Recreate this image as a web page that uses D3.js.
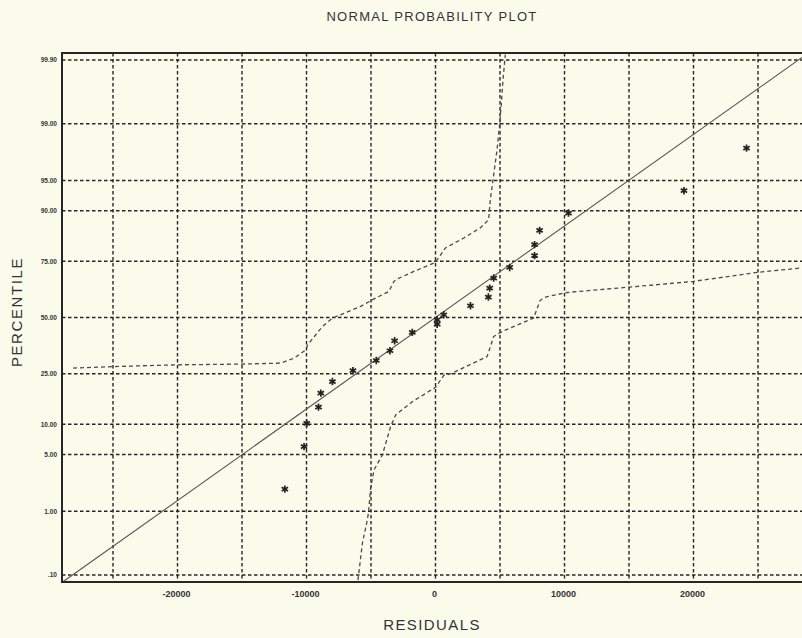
<!DOCTYPE html>
<html>
<head>
<meta charset="utf-8">
<script src="https://cdn.jsdelivr.net/npm/d3@7"></script>
<style>
  html, body { margin: 0; padding: 0; background: #fbfbec; }
  svg { display: block; }
</style>
</head>
<body>
<svg id="chart" width="802" height="638"></svg>
<script>
// ---------- data ----------
const percentTicks = [0.1, 1, 5, 10, 25, 50, 75, 90, 95, 99, 99.9];
const percentTickLabels = [".10", "1.00", "5.00", "10.00", "25.00", "50.00", "75.00", "90.00", "95.00", "99.00", "99.90"];
const residualGrid = [-25000, -20000, -15000, -10000, -5000, 0, 5000, 10000, 15000, 20000, 25000];
const residualTicks = [-20000, -10000, 0, 10000, 20000];
const residualTickLabels = ["-20000", "-10000", "0", "10000", "20000"];

const residuals = [-11680, -10190, -9980, -9070, -8890, -7990, -6400, -4590, -3530, -3170, -1800, 130, 130, 640, 2710, 4100, 4200, 4510, 5750, 7680, 7680, 8070, 10310, 19260, 24110];
const percentiles = [1.97, 6.06, 10.2, 14.1, 18.2, 22.1, 26.2, 30.3, 34.5, 39.0, 42.9, 46.8, 48.9, 51.3, 55.6, 59.7, 63.8, 68.2, 72.6, 77.1, 80.9, 85.2, 89.5, 93.6, 97.9];

const fitResiduals = [-29000, 29000];
const fitPercentiles = [0.072, 99.928];

const upperBandResiduals = [-28100, -24880, -19980, -15080, -11990, -10960, -10050, -9920, -8760, -7990, -5800, -4900, -3610, -3230, -2960, -1680, 0, 770, 2190, 3480, 4120, 4250, 4460, 4770, 4970, 5130, 5240, 5410];
const upperBandPercentiles = [27.2, 27.8, 28.5, 28.8, 29.2, 31.3, 34.9, 37.1, 45.7, 49.7, 55.3, 58.4, 62.3, 66.7, 67.8, 71.0, 74.6, 79.8, 83.0, 85.9, 88.0, 92.15, 95.1, 97.8, 98.97, 99.56, 99.79, 99.92];

const lowerBandResiduals = [-6010, -5670, -5340, -5200, -5030, -4770, -4120, -3480, -3090, -1800, 0, 640, 1160, 4000, 4510, 5160, 7600, 8120, 8590, 10190, 14950, 19980, 24940, 28360];
const lowerBandPercentiles = [0.081, 0.334, 0.674, 0.936, 2.02, 3.36, 4.95, 9.51, 12.1, 15.6, 20.1, 24.35, 24.9, 31.95, 40.98, 43.3, 49.7, 58.2, 59.8, 61.8, 64.2, 66.75, 70.6, 72.4];

// ---------- helpers ----------
function probit(p) { // inverse standard normal CDF (Acklam)
  const a = [-3.969683028665376e+01, 2.209460984245205e+02, -2.759285104469687e+02, 1.383577518672690e+02, -3.066479806614716e+01, 2.506628277459239e+00];
  const b = [-5.447609879822406e+01, 1.615858368580409e+02, -1.556989798598866e+02, 6.680131188771972e+01, -1.328068155288572e+01];
  const c = [-7.784894002430293e-03, -3.223964580411365e-01, -2.400758277161838e+00, -2.549732539343734e+00, 4.374664141464968e+00, 2.938163982698783e+00];
  const d = [7.784695709041462e-03, 3.224671290700398e-01, 2.445134137142996e+00, 3.754408661907416e+00];
  const pl = 0.02425, ph = 1 - pl;
  let q, r;
  if (p < pl) {
    q = Math.sqrt(-2 * Math.log(p));
    return (((((c[0]*q+c[1])*q+c[2])*q+c[3])*q+c[4])*q+c[5]) / ((((d[0]*q+d[1])*q+d[2])*q+d[3])*q+1);
  } else if (p <= ph) {
    q = p - 0.5; r = q * q;
    return (((((a[0]*r+a[1])*r+a[2])*r+a[3])*r+a[4])*r+a[5])*q / (((((b[0]*r+b[1])*r+b[2])*r+b[3])*r+b[4])*r+1);
  } else {
    q = Math.sqrt(-2 * Math.log(1 - p));
    return -(((((c[0]*q+c[1])*q+c[2])*q+c[3])*q+c[4])*q+c[5]) / ((((d[0]*q+d[1])*q+d[2])*q+d[3])*q+1);
  }
}

// ---------- layout ----------
const svg = d3.select("#chart");
const plotLeft = 62, plotTop = 53, plotBottom = 582;

const x = d3.scaleLinear().domain([-25000, 25000]).range([113, 758]);
const zScale = d3.scaleLinear().domain([-3.175, 3.175]).range([plotBottom, plotTop]);
const y = p => zScale(probit(p / 100));

const ink = "#262626";
const textCol = "#333";

svg.append("defs").append("clipPath").attr("id", "plotclip")
  .append("rect").attr("x", plotLeft).attr("y", plotTop).attr("width", 802 - plotLeft).attr("height", plotBottom - plotTop);

// grid
const grid = svg.append("g").attr("clip-path", "url(#plotclip)");
grid.selectAll("line.h").data(percentTicks).enter().append("line")
  .attr("x1", plotLeft).attr("x2", 802)
  .attr("y1", d => y(d)).attr("y2", d => y(d))
  .attr("stroke", ink).attr("stroke-width", 1.4).attr("stroke-dasharray", "3.5,2.5");
grid.selectAll("line.v").data(residualGrid).enter().append("line")
  .attr("x1", d => x(d)).attr("x2", d => x(d))
  .attr("y1", plotTop).attr("y2", plotBottom)
  .attr("stroke", ink).attr("stroke-width", 1.4).attr("stroke-dasharray", "3.5,2.5");

// fit line
const plot = svg.append("g").attr("clip-path", "url(#plotclip)");
const fitData = fitResiduals.map((r, i) => [r, fitPercentiles[i]]);
const lineGen = d3.line().x(d => x(d[0])).y(d => y(d[1]));
plot.append("path").datum(fitData).attr("d", lineGen)
  .attr("fill", "none").attr("stroke", "#555").attr("stroke-width", 1.1);

// bands
const upper = upperBandResiduals.map((r, i) => [r, upperBandPercentiles[i]]);
const lower = lowerBandResiduals.map((r, i) => [r, lowerBandPercentiles[i]]);
const bandGen = d3.line().x(d => x(d[0])).y(d => y(d[1])).curve(d3.curveMonotoneY ? d3.curveLinear : d3.curveLinear);
[upper, lower].forEach(b => {
  plot.append("path").datum(b).attr("d", bandGen)
    .attr("fill", "none").attr("stroke", "#4a4a4a").attr("stroke-width", 1.3)
    .attr("stroke-linejoin", "round").attr("stroke-dasharray", "4,3");
});

// points
const pts = residuals.map((r, i) => [r, percentiles[i]]);
const sym = d3.symbolAsterisk ? d3.symbol(d3.symbolAsterisk, 38) : d3.symbol(d3.symbolCross, 30);
plot.selectAll("path.pt").data(pts).enter().append("path")
  .attr("transform", d => `translate(${x(d[0])},${y(d[1])})`)
  .attr("d", sym)
  .attr("fill", "#222").attr("stroke", "#222").attr("stroke-width", 1.7);

// frame
svg.append("line").attr("x1", plotLeft).attr("x2", plotLeft).attr("y1", plotTop - 1).attr("y2", plotBottom + 1)
  .attr("stroke", ink).attr("stroke-width", 2);
svg.append("line").attr("x1", plotLeft - 1).attr("x2", 802).attr("y1", plotTop).attr("y2", plotTop)
  .attr("stroke", ink).attr("stroke-width", 2);
svg.append("line").attr("x1", plotLeft - 1).attr("x2", 802).attr("y1", plotBottom).attr("y2", plotBottom)
  .attr("stroke", ink).attr("stroke-width", 2.2);

// y tick labels
svg.selectAll("text.yt").data(percentTicks).enter().append("text")
  .attr("x", 57).attr("y", d => y(d) + 2.3)
  .attr("text-anchor", "end")
  .attr("font-family", "Liberation Sans, Arial, sans-serif")
  .attr("font-weight", "bold").attr("font-size", 6.5)
  .attr("fill", "#333")
  .text((d, i) => percentTickLabels[i]);

// x tick labels
svg.selectAll("text.xt").data(residualTicks).enter().append("text")
  .attr("x", d => x(d) - 1).attr("y", 597)
  .attr("text-anchor", "middle")
  .attr("font-family", "Liberation Sans, Arial, sans-serif")
  .attr("font-weight", "bold").attr("font-size", 9)
  .attr("fill", "#333")
  .text((d, i) => residualTickLabels[i]);

// titles
svg.append("text").attr("x", 432).attr("y", 21).attr("text-anchor", "middle")
  .attr("font-family", "Liberation Sans, Arial, sans-serif").attr("font-size", 13)
  .attr("letter-spacing", 1.3).attr("fill", textCol)
  .text("NORMAL PROBABILITY PLOT");
svg.append("text").attr("x", 432).attr("y", 630).attr("text-anchor", "middle")
  .attr("font-family", "Liberation Sans, Arial, sans-serif").attr("font-size", 15)
  .attr("letter-spacing", 1.4).attr("fill", textCol)
  .text("RESIDUALS");
svg.append("text").attr("transform", "translate(22,312) rotate(-90)").attr("text-anchor", "middle")
  .attr("font-family", "Liberation Sans, Arial, sans-serif").attr("font-size", 15)
  .attr("letter-spacing", 1.6).attr("fill", textCol)
  .text("PERCENTILE");
</script>
</body>
</html>
